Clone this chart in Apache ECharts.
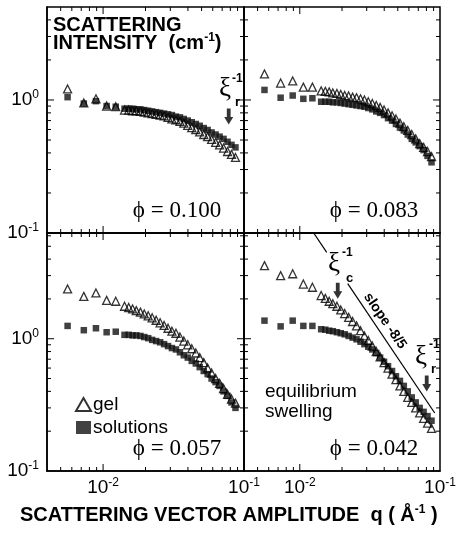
<!DOCTYPE html>
<html>
<head>
<meta charset="utf-8">
<script src="https://cdn.jsdelivr.net/npm/echarts@6/dist/echarts.min.js"></script>
<style>
  html, body { margin: 0; padding: 0; background: #fff; }
  #chart { width: 459px; height: 534px; }
</style>
</head>
<body>
<div id="chart"></div>
<script>
// scattering vector q (1/Angstrom), shared by all four panels
const q = [0.0056, 0.0073, 0.0089, 0.0106, 0.0123,
  0.0142, 0.0152, 0.0162, 0.0172, 0.0184, 0.0196, 0.0209, 0.0223, 0.0238, 0.0254,
  0.0271, 0.0289, 0.0308, 0.0329, 0.0351, 0.0374, 0.0399, 0.0426, 0.0455, 0.0485,
  0.0518, 0.0552, 0.0589, 0.0629, 0.0671, 0.0716, 0.0764, 0.0815, 0.087];

// intensities (1/cm): gel = triangles, sol = solutions (squares)
const gel100 = [1.21, 0.95, 1.02, 0.90, 0.89, 0.84, 0.84, 0.83, 0.83, 0.82, 0.81, 0.80, 0.79, 0.78, 0.77,
  0.76, 0.74, 0.72, 0.71, 0.69, 0.67, 0.645, 0.62, 0.60, 0.575, 0.55, 0.53, 0.505, 0.48, 0.46, 0.435, 0.41, 0.39, 0.37];
const sol100 = [1.05, 0.94, 0.98, 0.90, 0.89, 0.86, 0.86, 0.86, 0.85, 0.85, 0.84, 0.83, 0.82, 0.81, 0.80,
  0.79, 0.78, 0.77, 0.75, 0.74, 0.72, 0.70, 0.68, 0.66, 0.64, 0.615, 0.595, 0.57, 0.55, 0.53, 0.51, 0.485, 0.46, 0.44];
const gel083 = [1.57, 1.34, 1.39, 1.25, 1.25, 1.17, 1.16, 1.15, 1.13, 1.12, 1.10, 1.08, 1.07, 1.05, 1.04,
  1.02, 1.00, 0.97, 0.94, 0.91, 0.88, 0.84, 0.80, 0.76, 0.72, 0.67, 0.63, 0.59, 0.55, 0.51, 0.47, 0.44, 0.41, 0.375];
const sol083 = [1.19, 1.04, 1.08, 1.02, 1.03, 0.97, 0.97, 0.97, 0.96, 0.96, 0.95, 0.94, 0.93, 0.92, 0.91,
  0.90, 0.89, 0.87, 0.85, 0.82, 0.80, 0.77, 0.73, 0.70, 0.66, 0.62, 0.59, 0.55, 0.51, 0.48, 0.45, 0.42, 0.38, 0.34];
const gel057 = [2.38, 2.09, 2.22, 1.95, 1.92, 1.76, 1.72, 1.68, 1.63, 1.59, 1.54, 1.49, 1.44, 1.38, 1.32,
  1.26, 1.20, 1.14, 1.10, 1.03, 0.96, 0.90, 0.84, 0.78, 0.72, 0.66, 0.60, 0.55, 0.50, 0.46, 0.42, 0.38, 0.35, 0.326];
const sol057 = [1.25, 1.16, 1.20, 1.12, 1.13, 1.07, 1.07, 1.06, 1.06, 1.05, 1.03, 1.01, 0.98, 0.96, 0.94,
  0.91, 0.88, 0.85, 0.83, 0.79, 0.75, 0.72, 0.68, 0.65, 0.61, 0.57, 0.54, 0.50, 0.47, 0.44, 0.40, 0.37, 0.33, 0.30];
const gel042 = [3.57, 3.0, 3.1, 2.59, 2.45, 2.12, 2.02, 1.92, 1.84, 1.76, 1.65, 1.55, 1.45, 1.35, 1.25,
  1.15, 1.05, 0.97, 0.88, 0.80, 0.73, 0.66, 0.60, 0.54, 0.49, 0.44, 0.40, 0.36, 0.33, 0.30, 0.275, 0.25, 0.23, 0.21];
const sol042 = [1.37, 1.24, 1.37, 1.25, 1.25, 1.18, 1.17, 1.15, 1.14, 1.12, 1.10, 1.08, 1.05, 1.02, 0.99,
  0.95, 0.91, 0.87, 0.83, 0.78, 0.72, 0.67, 0.62, 0.57, 0.52, 0.48, 0.44, 0.40, 0.36, 0.33, 0.30, 0.28, 0.26, 0.24];

const gelSets = [gel100, gel083, gel057, gel042];
const solSets = [sol100, sol083, sol057, sol042];
const phiLabels = ['\u03d5 = 0.100', '\u03d5 = 0.083', '\u03d5 = 0.057', '\u03d5 = 0.042'];

// slope -8/5 guide line (two pieces, broken under the xi_c label)
const slopeQa = [0.01257, 0.01556], slopeIa = [6.3, 4.5];
const slopeQb = [0.02197, 0.0917], slopeIb = [2.61, 0.2745];

// arrows marking xi^-1 positions: [panel, q, I]
const arrowPanel = [0, 3, 3];
const arrowQ = [0.0779, 0.01865, 0.0804];
const arrowI = [0.751, 2.31, 0.4585];

// tick values
const xMajor = [0.01];
const xMinor = [0.005, 0.006, 0.007, 0.008, 0.009, 0.02, 0.03, 0.04, 0.05, 0.06, 0.07, 0.08, 0.09];
const yMajor = [1];
const yMinor = [0.2, 0.3, 0.4, 0.5, 0.6, 0.7, 0.8, 0.9, 2, 3, 4, 5, 6];

const X_MIN = 0.004, X_MAX = 0.1, Y_MIN = 0.1;
const yMaxes = [5, 5, 6.3, 6.3];
const grids = [
  { left: 47, top: 7, width: 197, height: 226 },
  { left: 244, top: 7, width: 196, height: 226 },
  { left: 47, top: 233, width: 197, height: 238 },
  { left: 244, top: 233, width: 196, height: 238 }
];

const SANS = '"Liberation Sans", Arial, Helvetica, sans-serif';
const SERIF = '"Liberation Serif", "Times New Roman", serif';

const powRich = {
  b: { fontSize: 19, fontFamily: SANS, color: '#000', lineHeight: 22, verticalAlign: 'middle' },
  s: { fontSize: 12, fontFamily: SANS, color: '#000', verticalAlign: 'top' }
};
function powLabel(v) {
  const l = Math.log10(v);
  if (Math.abs(l - Math.round(l)) > 1e-6) return '';
  return '{b|10}{s|' + Math.round(l) + '}';
}

const chart = echarts.init(document.getElementById('chart'), null, { renderer: 'canvas' });

const xAxes = grids.map((g, i) => ({
  gridIndex: i, type: 'log', logBase: 10, min: X_MIN, max: X_MAX,
  axisLine: { show: true, onZero: false, lineStyle: { color: '#000', width: 1.5 } },
  axisTick: { show: false }, splitLine: { show: false },
  axisLabel: { show: i >= 2, margin: 6, formatter: powLabel, rich: powRich,
    showMinLabel: true, showMaxLabel: true, hideOverlap: false }
}));
const yAxes = grids.map((g, i) => ({
  gridIndex: i, type: 'log', logBase: 10, min: Y_MIN, max: yMaxes[i],
  axisLine: { show: true, onZero: false, lineStyle: { color: '#000', width: 1.5 } },
  axisTick: { show: false }, splitLine: { show: false },
  axisLabel: { show: i % 2 === 0, margin: 8, formatter: powLabel, rich: powRich,
    showMinLabel: true, showMaxLabel: true, hideOverlap: false }
}));

const series = [];
grids.forEach((g, i) => {
  const yMax = yMaxes[i];
  // x ticks, drawn inside at bottom and top
  series.push({
    type: 'custom', xAxisIndex: i, yAxisIndex: i, silent: true, clip: false, z: 5,
    data: xMajor.map(v => [v, Y_MIN, 7]).concat(xMinor.map(v => [v, Y_MIN, 4])),
    renderItem(params, api) {
      const v = api.value(0), len = api.value(2);
      const b = api.coord([v, Y_MIN]), t = api.coord([v, yMax]);
      return { type: 'group', children: [
        { type: 'line', shape: { x1: b[0], y1: b[1], x2: b[0], y2: b[1] - len }, style: { stroke: '#000', lineWidth: 1 } },
        { type: 'line', shape: { x1: t[0], y1: t[1], x2: t[0], y2: t[1] + len }, style: { stroke: '#000', lineWidth: 1 } }
      ] };
    }
  });
  // y ticks, drawn inside at left and right
  series.push({
    type: 'custom', xAxisIndex: i, yAxisIndex: i, silent: true, clip: false, z: 5,
    data: yMajor.map(v => [X_MIN, v, 7]).concat(yMinor.filter(v => v < yMax).map(v => [X_MIN, v, 4])),
    renderItem(params, api) {
      const v = api.value(1), len = api.value(2);
      const l = api.coord([X_MIN, v]), r = api.coord([X_MAX, v]);
      return { type: 'group', children: [
        { type: 'line', shape: { x1: l[0], y1: l[1], x2: l[0] + len, y2: l[1] }, style: { stroke: '#000', lineWidth: 1 } },
        { type: 'line', shape: { x1: r[0], y1: r[1], x2: r[0] - len, y2: r[1] }, style: { stroke: '#000', lineWidth: 1 } }
      ] };
    }
  });
  series.push({
    name: 'solutions', type: 'scatter', xAxisIndex: i, yAxisIndex: i, z: 10,
    symbol: 'rect', symbolSize: 6.5,
    itemStyle: { color: '#111' },
    data: q.map((x, k) => [x, solSets[i][k]])
  });
  series.push({
    name: 'gel', type: 'scatter', xAxisIndex: i, yAxisIndex: i, z: 11,
    symbol: 'triangle', symbolSize: 8,
    itemStyle: { color: 'rgba(255,255,255,0)', borderColor: '#000', borderWidth: 1.3 },
    data: q.map((x, k) => [x, gelSets[i][k]])
  });
});

[[slopeQa, slopeIa], [slopeQb, slopeIb]].forEach(([xs, ys]) => {
  series.push({
    type: 'line', xAxisIndex: 3, yAxisIndex: 3, symbol: 'none', silent: true, z: 8,
    lineStyle: { color: '#000', width: 1.2 },
    data: xs.map((x, k) => [x, ys[k]])
  });
});

arrowPanel.forEach((p, k) => {
  series.push({
    type: 'scatter', xAxisIndex: p, yAxisIndex: p, silent: true, z: 12,
    symbol: 'path://M2.6,0L6.4,0L6.4,8.5L9,8.5L4.5,16L0,8.5L2.6,8.5Z', symbolSize: [9, 16],
    itemStyle: { color: '#000' },
    data: [[arrowQ[k], arrowI[k]]]
  });
});

function txt(x, y, text, font, extra) {
  return Object.assign({ type: 'text', x: x, y: y, z: 100,
    style: Object.assign({ text: text, fill: '#000', font: font, align: 'left', verticalAlign: 'middle' }, extra || {}) });
}

const graphic = [];
grids.forEach((g, i) => {
  graphic.push(txt(g.left + 130, g.top + g.height - 22, phiLabels[i], '23px ' + SERIF, { align: 'center' }));
});
graphic.push(txt(53, 25, 'SCATTERING', 'bold 20px ' + SANS));
graphic.push({ type: 'text', x: 53, y: 43, z: 100, style: {
  text: '{t|INTENSITY  (cm}{s|-1}{t|)}', verticalAlign: 'middle', align: 'left',
  rich: {
    t: { font: 'bold 20px ' + SANS, fill: '#000', lineHeight: 22, verticalAlign: 'middle' },
    s: { font: 'bold 12px ' + SANS, fill: '#000', verticalAlign: 'top' }
  } } });
graphic.push(txt(265, 402, 'equilibrium\nswelling', '19px ' + SANS, { lineHeight: 20 }));
// xi annotations
graphic.push(txt(219, 89, '\u03be', '27px ' + SERIF));
graphic.push(txt(232, 79, '-1', 'bold 12px ' + SANS));
graphic.push(txt(235, 102, 'r', 'bold 13px ' + SANS));
graphic.push(txt(328, 264, '\u03be', '27px ' + SERIF));
graphic.push(txt(342, 253, '-1', 'bold 12px ' + SANS));
graphic.push(txt(346, 278, 'c', 'bold 13px ' + SANS));
graphic.push(txt(415, 357, '\u03be', '27px ' + SERIF));
graphic.push(txt(429, 345, '-1', 'bold 12px ' + SANS));
graphic.push(txt(431, 369, 'r', 'bold 13px ' + SANS));
graphic.push(txt(385, 321, 'slope -8/5', 'bold 14px ' + SANS, { align: 'center' }));
graphic[graphic.length - 1].rotation = -0.967;
graphic.push({ type: 'text', x: 20, y: 515, z: 100, style: {
  text: '{t|SCATTERING VECTOR AMPLITUDE  q ( \u00c5}{s|-1}{t| )}', verticalAlign: 'middle', align: 'left',
  rich: {
    t: { font: 'bold 20px ' + SANS, fill: '#000', lineHeight: 22, verticalAlign: 'middle' },
    s: { font: 'bold 12px ' + SANS, fill: '#000', verticalAlign: 'top' }
  } } });

chart.setOption({
  backgroundColor: '#fff',
  animation: false,
  grid: grids.map(g => Object.assign({ show: true, borderColor: '#000', borderWidth: 1.5,
    backgroundColor: 'rgba(0,0,0,0)', containLabel: false }, g)),
  xAxis: xAxes,
  yAxis: yAxes,
  legend: {
    data: ['gel', 'solutions'], orient: 'vertical', left: 70, top: 390,
    itemWidth: 15, itemHeight: 13, itemGap: 4, selectedMode: false,
    textStyle: { fontSize: 19, fontFamily: SANS, color: '#000', padding: [0, 0, 0, -3] }
  },
  series: series,
  graphic: graphic
});
</script>
</body>
</html>
